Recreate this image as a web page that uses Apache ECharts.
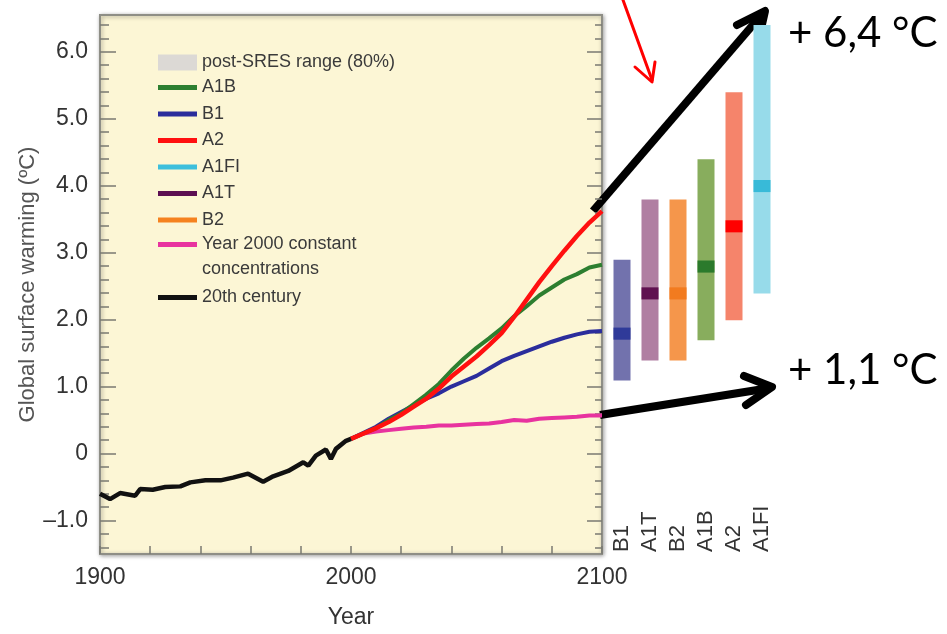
<!DOCTYPE html>
<html lang="en">
<head>
<meta charset="UTF-8">
<title>Global surface warming</title>
<style>html,body{margin:0;padding:0;background:#fff;}</style>
</head>
<body>
<div id="main" style="width:947px;height:634px;"></div>
<script src="https://cdn.jsdelivr.net/npm/echarts@6/dist/echarts.min.js"></script>
<script>
// 20th century observed
var years20 = [1900, 1904, 1908, 1914, 1916, 1921, 1926, 1932, 1936, 1942, 1948, 1953, 1959, 1965, 1969, 1975, 1981, 1983, 1986, 1990, 1992, 1994, 1998, 2000];
var temp20  = [-0.60, -0.68, -0.59, -0.63, -0.53, -0.54, -0.50, -0.49, -0.43, -0.40, -0.40, -0.36, -0.30, -0.42, -0.34, -0.26, -0.13, -0.18, -0.03, 0.06, -0.08, 0.07, 0.19, 0.22];

// projections
var yearsProj  = [2000, 2005, 2010, 2015, 2020, 2025, 2030, 2035, 2040, 2045, 2050, 2055, 2060, 2065, 2070, 2075, 2080, 2085, 2090, 2095, 2100];
var a1b        = [0.22, 0.30, 0.38, 0.50, 0.60, 0.74, 0.88, 1.04, 1.24, 1.42, 1.58, 1.72, 1.87, 2.05, 2.20, 2.36, 2.48, 2.60, 2.68, 2.78, 2.82];
var a2         = [0.22, 0.30, 0.38, 0.47, 0.58, 0.70, 0.82, 0.97, 1.15, 1.30, 1.45, 1.62, 1.80, 2.04, 2.30, 2.56, 2.80, 3.03, 3.25, 3.45, 3.62];
var b1         = [0.22, 0.31, 0.40, 0.52, 0.62, 0.72, 0.82, 0.90, 1.00, 1.08, 1.16, 1.27, 1.38, 1.46, 1.53, 1.60, 1.67, 1.73, 1.78, 1.82, 1.83];
var constConc  = [0.22, 0.30, 0.33, 0.35, 0.37, 0.39, 0.40, 0.42, 0.42, 0.43, 0.44, 0.45, 0.47, 0.50, 0.49, 0.52, 0.53, 0.54, 0.55, 0.57, 0.57];

// likely ranges at 2100
var scenarios = ['B1', 'A1T', 'B2', 'A1B', 'A2', 'A1FI'];
var rangeLow  = [1.1, 1.4, 1.4, 1.7, 2.0, 2.4];
var rangeBest = [1.8, 2.4, 2.4, 2.8, 3.4, 4.0];
var rangeHigh = [2.9, 3.8, 3.8, 4.4, 5.4, 6.4];

var yLabelVals = [-1, 0, 1, 2, 3, 4, 5, 6];
var xLabelVals = [1900, 2000, 2100];

var barFill = ['#7272ad', '#b07fa2', '#f5964b', '#88ad5d', '#f5846b', '#97dbea'];
var barMid  = ['#2f3a99', '#5f1150', '#f27b1f', '#2b7a2c', '#ff0000', '#38bad8'];

var yMin = -1.5, yMax = 6.55;
var minorVals = [];
for (var t = -14; t <= 64; t += 2) { if (t % 10 !== 0) minorVals.push(t / 10); }

function pairs(xs, ys) { return xs.map(function (x, i) { return [x, ys[i]]; }); }

var font = 'Liberation Sans, Arial, sans-serif';
var tickColor = '#7a7a72';
var constName = 'Year 2000 constant\nconcentrations';
var legendText = {fontSize: 18, color: '#3a3a3a', lineHeight: 25, fontFamily: font};

var myChart = echarts.init(document.getElementById('main'));

var option = {
    animation: false,
    textStyle: {fontFamily: font},
    grid: [
        {left: 100, right: 345, top: 15, bottom: 79, show: true, backgroundColor: '#fcf6d5',
         borderColor: '#8e8e86', borderWidth: 2, shadowBlur: 4, shadowColor: 'rgba(0,0,0,0.35)', shadowOffsetX: 1, shadowOffsetY: 1},
        {left: 608, width: 168, top: 15, bottom: 79}
    ],
    legend: [
        {
            left: 158, top: 50, padding: 0, selectedMode: false,
            icon: 'rect', itemWidth: 39, itemHeight: 16, textStyle: legendText,
            data: [{name: 'post-SRES range (80%)', itemStyle: {color: '#dcd9d5'}}]
        },
        {
            left: 158, top: 75, padding: 0, orient: 'vertical', selectedMode: false,
            icon: 'rect', itemWidth: 39, itemHeight: 5, itemGap: 1.5, textStyle: legendText,
            data: ['A1B', 'B1', 'A2', 'A1FI', 'A1T', 'B2']
        },
        {
            // swatch sits beside the first of two text lines
            left: 158, top: 232, padding: 0, selectedMode: false,
            icon: 'path://M0,0h39v5h-39zM0,29.99h0.01v0.01h-0.01z', itemWidth: 39, itemHeight: 30,
            textStyle: legendText, data: [constName]
        },
        {
            left: 158, top: 285, padding: 0, selectedMode: false,
            icon: 'rect', itemWidth: 39, itemHeight: 5, textStyle: legendText,
            data: ['20th century']
        }
    ],
    xAxis: [
        {
            type: 'value', gridIndex: 0, min: 1900, max: 2100, interval: 20,
            name: 'Year', nameLocation: 'middle', nameGap: 52, nameMoveOverlap: false,
            nameTextStyle: {fontSize: 23, color: '#333'},
            axisLine: {show: false, onZero: false},
            axisTick: {inside: true, length: 8, lineStyle: {color: tickColor, width: 1.5}},
            axisLabel: {customValues: xLabelVals, fontSize: 23, color: '#333', margin: 12,
                formatter: function (v) { return String(v); }},
            splitLine: {show: false}
        },
        {
            type: 'category', gridIndex: 1, data: scenarios,
            axisLine: {show: false, onZero: false}, axisTick: {show: false},
            axisLabel: {inside: true, interval: 0, rotate: 90, fontSize: 22, color: '#333', margin: 3},
            splitLine: {show: false}
        }
    ],
    yAxis: [
        {
            type: 'value', gridIndex: 0, position: 'left', min: yMin, max: yMax,
            name: 'Global surface warming (ºC)', nameLocation: 'middle', nameGap: 61, nameMoveOverlap: false,
            nameTextStyle: {fontSize: 22, color: '#555'},
            axisLine: {show: false},
            axisTick: {inside: true, length: 16, customValues: yLabelVals, lineStyle: {color: tickColor, width: 1.5}},
            axisLabel: {
                customValues: yLabelVals, fontSize: 23, color: '#333', margin: 12,
                formatter: function (v) {
                    if (v === 0) return '0';
                    return v < 0 ? '\u2013' + Math.abs(v).toFixed(1) : v.toFixed(1);
                }
            },
            splitLine: {show: false}
        },
        {
            type: 'value', gridIndex: 0, position: 'left', min: yMin, max: yMax,
            axisLine: {show: false}, axisLabel: {show: false}, splitLine: {show: false},
            axisTick: {inside: true, length: 9, customValues: minorVals, lineStyle: {color: tickColor, width: 1.5}}
        },
        {
            type: 'value', gridIndex: 0, position: 'right', min: yMin, max: yMax,
            axisLine: {show: false}, axisLabel: {show: false}, splitLine: {show: false},
            axisTick: {inside: true, length: 15, customValues: yLabelVals, lineStyle: {color: tickColor, width: 1.5}}
        },
        {
            type: 'value', gridIndex: 0, position: 'right', min: yMin, max: yMax,
            axisLine: {show: false}, axisLabel: {show: false}, splitLine: {show: false},
            axisTick: {inside: true, length: 7, customValues: minorVals, lineStyle: {color: tickColor, width: 1.5}}
        },
        {
            type: 'value', gridIndex: 1, min: yMin, max: yMax, show: false
        }
    ],
    series: [
        {name: 'post-SRES range (80%)', type: 'line', data: [], color: '#dcd9d5'},
        {name: 'A1FI', type: 'line', data: [], color: '#3dbfdc'},
        {name: 'A1T', type: 'line', data: [], color: '#5c0f52'},
        {name: 'B2', type: 'line', data: [], color: '#f5821f'},
        {name: constName, type: 'line', showSymbol: false, color: '#e8339f',
         lineStyle: {width: 4}, data: pairs(yearsProj, constConc)},
        {name: 'B1', type: 'line', showSymbol: false, color: '#2b2d9c',
         lineStyle: {width: 4}, data: pairs(yearsProj, b1)},
        {name: 'A1B', type: 'line', showSymbol: false, color: '#2d7f30',
         lineStyle: {width: 4}, data: pairs(yearsProj, a1b)},
        {name: 'A2', type: 'line', showSymbol: false, color: '#ff1010',
         lineStyle: {width: 4.5}, data: pairs(yearsProj, a2)},
        {name: '20th century', type: 'line', showSymbol: false, color: '#111',
         lineStyle: {width: 4.5}, data: pairs(years20, temp20)},
        {
            name: 'likely range', type: 'custom', xAxisIndex: 1, yAxisIndex: 4,
            data: scenarios.map(function (s, i) { return [i, rangeLow[i], rangeBest[i], rangeHigh[i]]; }),
            renderItem: function (params, api) {
                var i = params.dataIndex;
                var x = api.value(0);
                var top = api.coord([x, api.value(3)]);
                var bot = api.coord([x, api.value(1)]);
                var m1 = api.coord([x, api.value(2) + 0.09]);
                var m2 = api.coord([x, api.value(2) - 0.09]);
                var w = 17;
                return {
                    type: 'group',
                    children: [
                        {type: 'rect', shape: {x: top[0] - w / 2, y: top[1], width: w, height: bot[1] - top[1]},
                         style: {fill: barFill[i]}},
                        {type: 'rect', shape: {x: m1[0] - w / 2, y: m1[1], width: w, height: m2[1] - m1[1]},
                         style: {fill: barMid[i]}}
                    ]
                };
            }
        }
    ],
    graphic: [
        // red arrow
        {type: 'line', shape: {x1: 623, y1: 0, x2: 652, y2: 80}, style: {stroke: '#ff0000', lineWidth: 3, lineCap: 'round'}},
        {type: 'polyline', shape: {points: [[635, 67], [652, 82], [655, 62]]}, style: {stroke: '#ff0000', lineWidth: 3, lineCap: 'round', lineJoin: 'round', fill: null}},
        // black arrow to + 6,4
        {type: 'line', shape: {x1: 593, y1: 211, x2: 764, y2: 12}, style: {stroke: '#000', lineWidth: 8}},
        {type: 'polyline', shape: {points: [[737, 25], [765, 11], [758, 42]]}, style: {stroke: '#000', lineWidth: 8, lineCap: 'round', lineJoin: 'round', fill: null}},
        // black arrow to + 1,1
        {type: 'line', shape: {x1: 600, y1: 415, x2: 770, y2: 388}, style: {stroke: '#000', lineWidth: 8}},
        {type: 'polyline', shape: {points: [[744, 376], [772, 387], [746, 405]]}, style: {stroke: '#000', lineWidth: 8, lineCap: 'round', lineJoin: 'round', fill: null}},
        {type: 'text', left: 788, top: 12, style: {text: '+ 6,4 °C', fontSize: 42, fontFamily: 'Lato, Open Sans, sans-serif', fill: '#000'}},
        {type: 'text', left: 788, top: 349, style: {text: '+ 1,1 °C', fontSize: 42, fontFamily: 'Lato, Open Sans, sans-serif', fill: '#000'}}
    ]
};
myChart.setOption(option);
</script>
</body>
</html>
